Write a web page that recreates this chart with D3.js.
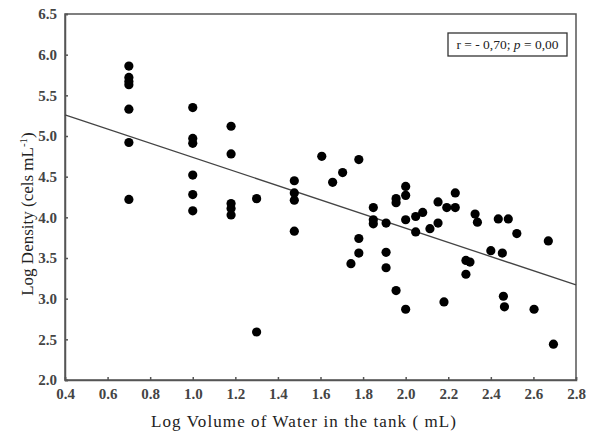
<!DOCTYPE html>
<html>
<head>
<meta charset="utf-8">
<script src="https://cdn.jsdelivr.net/npm/d3@7"></script>
<style>
  body { margin: 0; background: #fff; }
  svg text { font-family: "Liberation Serif", "Times New Roman", Times, serif; }
</style>
</head>
<body>
<svg id="chart" width="592" height="433"></svg>
<script>
// log volume (x) and log density (y)
const logVolume = [
  0.7, 0.7, 0.7, 0.7, 0.7, 0.7, 0.7,
  1.0, 1.0, 1.0, 1.0, 1.0, 1.0,
  1.18, 1.18, 1.18, 1.18, 1.18,
  1.30, 1.30,
  1.477, 1.477, 1.477, 1.477,
  1.606, 1.657, 1.704, 1.78, 1.78, 1.78, 1.743,
  1.848, 1.848, 1.848, 1.908, 1.908, 1.908,
  1.955, 1.955, 1.955,
  2.0, 2.0, 2.0, 2.0,
  2.047, 2.047, 2.08, 2.114, 2.152, 2.152, 2.18, 2.193,
  2.233, 2.233, 2.283, 2.302, 2.283,
  2.326, 2.337, 2.40, 2.435, 2.482, 2.454, 2.459, 2.464,
  2.522, 2.603, 2.67, 2.694
];
const logDensity = [
  5.86, 5.72, 5.67, 5.63, 5.33, 4.92, 4.22,
  5.35, 4.97, 4.91, 4.52, 4.28, 4.08,
  5.12, 4.78, 4.17, 4.11, 4.03,
  4.23, 2.59,
  4.45, 4.30, 4.21, 3.83,
  4.75, 4.43, 4.55, 4.71, 3.74, 3.56, 3.43,
  4.12, 3.97, 3.92, 3.93, 3.57, 3.38,
  4.23, 4.18, 3.10,
  4.38, 4.27, 3.97, 2.87,
  4.01, 3.82, 4.06, 3.86, 4.19, 3.93, 2.96, 4.12,
  4.30, 4.12, 3.47, 3.45, 3.30,
  4.04, 3.94, 3.59, 3.98, 3.98, 3.56, 3.03, 2.90,
  3.80, 2.87, 3.71, 2.44
];
// regression fit
const fitIntercept = 5.608;
const fitSlope = -0.871;
const xTicks = [0.4, 0.6, 0.8, 1.0, 1.2, 1.4, 1.6, 1.8, 2.0, 2.2, 2.4, 2.6, 2.8];
const yTicks = [2.0, 2.5, 3.0, 3.5, 4.0, 4.5, 5.0, 5.5, 6.0, 6.5];
const statText = ["r = - 0,70; ", "p", " = 0,00"];

const svg = d3.select("#chart");
const margin = { top: 14, right: 16, bottom: 53, left: 65 };
const width = +svg.attr("width");
const height = +svg.attr("height");
const innerWidth = width - margin.left - margin.right;
const innerHeight = height - margin.top - margin.bottom;

const g = svg.append("g")
  .attr("transform", `translate(${margin.left},${margin.top})`);

const x = d3.scaleLinear().domain([0.4, 2.8]).range([0, innerWidth]);
const y = d3.scaleLinear().domain([2.0, 6.5]).range([innerHeight, 0]);

const axisColor = "#555";

//frame
g.append("rect")
  .attr("width", innerWidth)
  .attr("height", innerHeight)
  .attr("fill", "none")
  .attr("stroke", axisColor)
  .attr("stroke-width", 1.5);

//x axis, ticks point inward
const xAxis = g.append("g")
  .attr("transform", `translate(0,${innerHeight})`)
  .call(d3.axisBottom(x).tickValues(xTicks).tickSize(-3).tickPadding(8).tickFormat(d3.format(".1f")));

//y axis
const yAxis = g.append("g")
  .call(d3.axisLeft(y).tickValues(yTicks).tickSize(-3).tickPadding(8).tickFormat(d3.format(".1f")));

[xAxis, yAxis].forEach(a => {
  a.attr("font-family", null).attr("font-size", null);
  a.select(".domain").attr("stroke", axisColor).attr("stroke-width", 1.5);
  a.selectAll(".tick line").attr("stroke", axisColor).attr("stroke-width", 1.5);
  a.selectAll(".tick text")
    .attr("fill", "#444")
    .style("font-size", "15px")
    .style("font-weight", "600");
});

//regression line
g.append("line")
  .attr("x1", x(0.4)).attr("y1", y(fitIntercept + fitSlope * 0.4))
  .attr("x2", x(2.8)).attr("y2", y(fitIntercept + fitSlope * 2.8))
  .attr("stroke", "#444")
  .attr("stroke-width", 1.3);

//points
g.selectAll("circle")
  .data(logVolume.map((v, i) => [v, logDensity[i]]))
  .join("circle")
  .attr("cx", d => x(d[0]))
  .attr("cy", d => y(d[1]))
  .attr("r", 4.6)
  .attr("fill", "#000");

//stat box
const box = g.append("g").attr("transform", `translate(${innerWidth - 128},19)`);
box.append("rect")
  .attr("width", 119)
  .attr("height", 23)
  .attr("fill", "#fff")
  .attr("stroke", "#333")
  .attr("stroke-width", 1.3);
const st = box.append("text")
  .attr("x", 59.5)
  .attr("y", 16)
  .attr("text-anchor", "middle")
  .attr("font-size", "13.5px")
  .attr("fill", "#222");
statText.forEach((t, i) => {
  st.append("tspan").attr("font-style", i === 1 ? "italic" : "normal").text(t);
});

//x label
svg.append("text")
  .attr("x", margin.left + innerWidth / 2 - 17)
  .attr("y", 427)
  .attr("text-anchor", "middle")
  .attr("font-size", "17px")
  .attr("textLength", 305)
  .attr("lengthAdjust", "spacing")
  .attr("fill", "#222")
  .text("Log Volume of Water in the tank ( mL)");

//y label
const yl = svg.append("text")
  .attr("transform", "translate(33,214) rotate(-90)")
  .attr("text-anchor", "middle")
  .attr("font-size", "17px")
  .attr("fill", "#222");
yl.append("tspan").text("Log Density (cels mL");
yl.append("tspan").attr("dy", -6).attr("font-size", "11px").text("-1");
yl.append("tspan").attr("dy", 6).text(")");
</script>
</body>
</html>
